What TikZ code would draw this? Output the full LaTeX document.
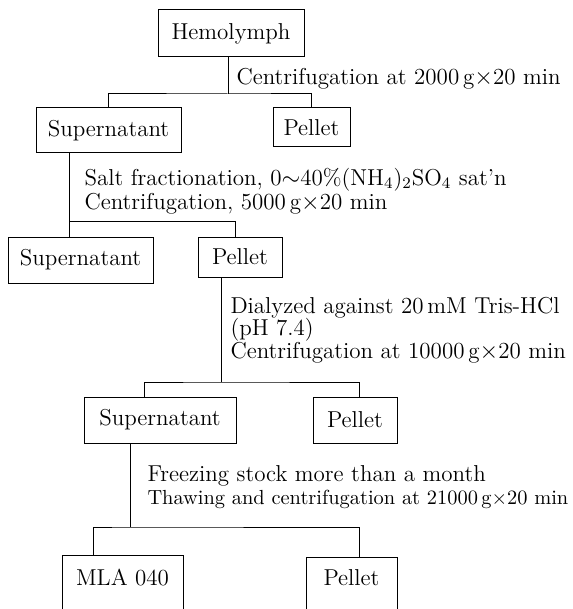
\documentclass[tikz,border=0pt]{standalone}
\usepackage{amsmath,amssymb}

\begin{document}
\begin{tikzpicture}[x=0.5pt, y=-0.5pt, line width=0.5pt, every node/.style={font=\fontsize{11.5}{11.3}\selectfont}, box/.style={draw, inner sep=0pt}, note/.style={anchor=west, align=left, inner sep=0pt}]
	\useasboundingbox (0,0) rectangle (572,609);
	\clip (0,0) rectangle (572,609);
	\node[box, minimum width=73pt, minimum height=23.5pt] (hemo) at (231,33.5) {Hemolymph};
	\node[box, minimum width=72.5pt, minimum height=22.5pt] (sup1) at (108.5,130.5) {Supernatant};
	\node[box, minimum width=38.5pt, minimum height=19.5pt] (pel1) at (311.5,127.5) {Pellet};
	\node[box, minimum width=72.5pt, minimum height=23pt] (sup2) at (80.5,260) {Supernatant};
	\node[box, minimum width=42pt, minimum height=20pt] (pel2) at (240,257) {Pellet};
	\node[box, minimum width=76pt, minimum height=23pt] (sup3) at (160,420) {Supernatant};
	\node[box, minimum width=42pt, minimum height=23pt] (pel3) at (355,420) {Pellet};
	% last row runs off the bottom edge
	\node[box, anchor=north, minimum width=60.5pt, inner ysep=7pt, text height=7.9pt, text depth=20pt] (mla) at (122.5,555) {MLA 040};
	\node[box, anchor=north, minimum width=45.5pt, inner ysep=6pt, text height=7.9pt, text depth=20pt] (pel4) at (351.5,557) {Pellet};
	\coordinate (j1) at (228,94);
	\coordinate (j2) at (69,221);
	\coordinate (j3) at (221,382);
	\coordinate (j4) at (130,527);
	\draw (j1 |- hemo.south) -- (j1);
	\draw (sup1.north) |- (j1) -| (pel1.north);
	\draw (j2 |- sup1.south) -- (j2);
	\draw (j2 |- sup2.north) -- (j2) -| ([xshift=-2.5pt]pel2.north);
	\draw (j3 |- pel2.south) -- (j3);
	\draw ([xshift=-8pt]sup3.north) |- (j3) -| ([xshift=2pt]pel3.north);
	\draw (j4 |- sup3.south) -- (j4);
	\draw ([xshift=-14.75pt]mla.north) |- (j4) -| ([xshift=3.75pt]pel4.north);
	\node[note] (c1) at (236,79) {Centrifugation at 2000\,g$\times$20 min};
	\node[note, font=\fontsize{11.5}{12}\selectfont] (c2) at (84,191) {Salt fractionation, 0$\sim$40\%(NH$_4$)$_2$SO$_4$ sat'n\\Centrifugation, 5000\,g$\times$20 min};
	\node[note] (c3) at (230,330) {Dialyzed against 20\,mM Tris-HCl\\(pH 7.4)\\Centrifugation at 10000\,g$\times$20 min};
	\node[note] (c4) at (147,487) {Freezing stock more than a month\\{\fontsize{10.2}{11}\selectfont Thawing and centrifugation at 21000\,g$\times$20 min}};
\end{tikzpicture}
\end{document}
